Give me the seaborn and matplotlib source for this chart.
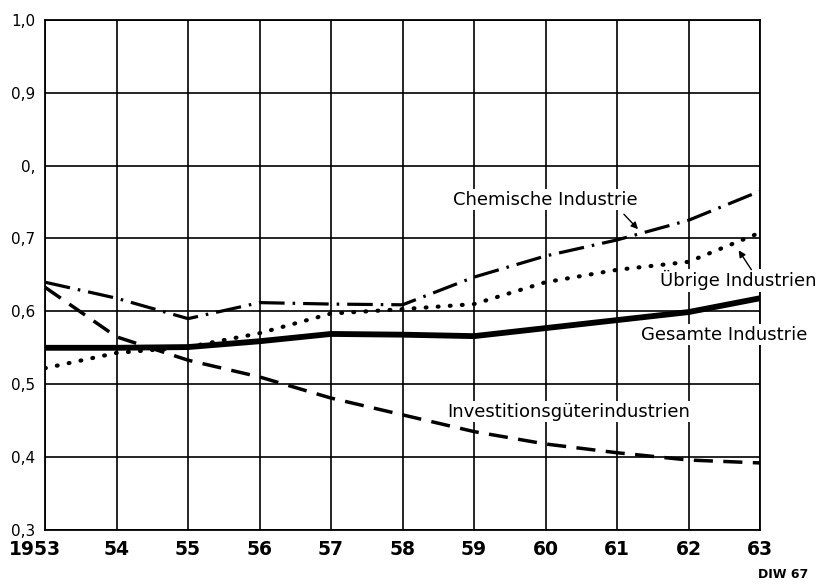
import numpy as np
import pandas as pd
import matplotlib
matplotlib.use('Agg')
import matplotlib.pyplot as plt
import matplotlib.transforms as mtrans
import seaborn as sns

# values
years = [1953, 1954, 1955, 1956, 1957, 1958, 1959, 1960, 1961, 1962, 1963]
gesamte = [0.550, 0.550, 0.551, 0.559, 0.569, 0.568, 0.566, 0.577, 0.588, 0.599, 0.618]
chemische = [0.640, 0.618, 0.590, 0.612, 0.610, 0.609, 0.647, 0.676, 0.698, 0.725, 0.765]
uebrige = [0.522, 0.543, 0.551, 0.570, 0.597, 0.603, 0.610, 0.640, 0.657, 0.668, 0.708]
investition = [0.633, 0.565, 0.533, 0.510, 0.481, 0.458, 0.435, 0.418, 0.406, 0.396, 0.392]

x_labels = ['1953', '54', '55', '56', '57', '58', '59', '60', '61', '62', '63']
y_ticks = [0.3, 0.4, 0.5, 0.6, 0.7, 0.8, 0.9, 1.0]
y_labels = ['0,3', '0,4', '0,5', '0,6', '0,7', '0,', '0,9', '1,0']

sns.set_style('white')
plt.rcParams['font.family'] = ['DejaVu Sans']
plt.rcParams['text.color'] = 'black'
plt.rcParams['xtick.color'] = 'black'
plt.rcParams['ytick.color'] = 'black'

fig = plt.figure(figsize=(8.19, 5.84), dpi=100)
ax = fig.add_axes([0.055, 0.0925, 0.873, 0.8735])

# series drawn with seaborn
sns.lineplot(x=years, y=gesamte, ax=ax, color='black', lw=4.2,
             solid_capstyle='butt')
sns.lineplot(x=years, y=chemische, ax=ax, color='black', lw=2.3,
             linestyle=(0, (8, 2.5, 0.8, 2.5)))
sns.lineplot(x=years, y=uebrige, ax=ax, color='black', lw=3,
             linestyle=(0, (0.2, 2.7)), dash_capstyle='round')
sns.lineplot(x=years, y=investition, ax=ax, color='black', lw=2.5,
             linestyle=(0, (5.5, 3)))

ax.set_xlim(1953, 1963)
ax.set_ylim(0.3, 1.0)
ax.set_xticks(years)
ax.set_xticklabels(x_labels, fontsize=13.5, fontweight='bold')
ax.set_yticks(y_ticks)
ax.set_yticklabels(y_labels, fontsize=11)
ax.tick_params(axis='y', length=0, pad=7)
ax.tick_params(axis='x', length=0, pad=7)
# first year label sits a bit left of the axis corner
first = ax.get_xticklabels()[0]
first.set_transform(first.get_transform() + mtrans.ScaledTranslation(-0.1, 0, fig.dpi_scale_trans))
ax.grid(True, color='black', lw=1.2)
ax.set_axisbelow(True)
for sp in ax.spines.values():
    sp.set_color('black')
    sp.set_linewidth(1.3)

# labels on the curves
box = dict(facecolor='white', edgecolor='none', pad=1)
ax.text(1960.0, 0.753, 'Chemische Industrie', fontsize=13, ha='center', va='center', bbox=box)
ax.annotate('', xy=(1961.32, 0.710), xytext=(1961.07, 0.736),
            arrowprops=dict(arrowstyle='-|>', color='black', lw=1, mutation_scale=10))
ax.text(1962.7, 0.643, 'Übrige Industrien', fontsize=13, ha='center', va='center', bbox=box,
        clip_on=False)
ax.annotate('', xy=(1962.68, 0.687), xytext=(1962.9, 0.654),
            arrowprops=dict(arrowstyle='-|>', color='black', lw=1, mutation_scale=10))
ax.text(1962.5, 0.568, 'Gesamte Industrie', fontsize=13, ha='center', va='center', bbox=box,
        clip_on=False)
ax.text(1960.33, 0.462, 'Investitionsgüterindustrien', fontsize=13, ha='center', va='center',
        bbox=box)

fig.text(0.987, 0.005, 'DIW 67', fontsize=9, fontweight='bold', ha='right', va='bottom')

fig.savefig('out.png', dpi=100)
